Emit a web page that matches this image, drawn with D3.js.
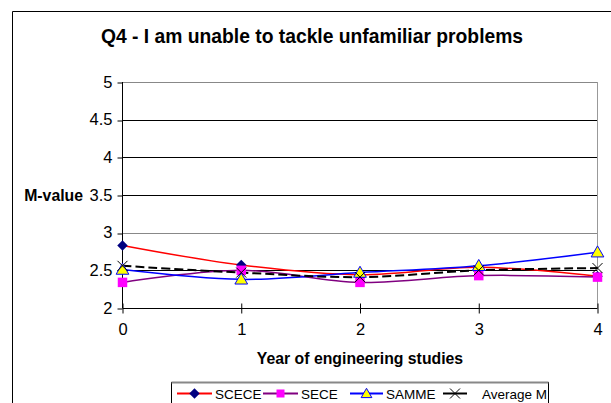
<!DOCTYPE html>
<html><head><meta charset="utf-8">
<script src="https://cdnjs.cloudflare.com/ajax/libs/d3/7.8.5/d3.min.js"></script>
<style>body{margin:0;background:#fff}svg{display:block;font-family:Arial,"Liberation Sans",sans-serif}</style>
</head><body><svg id="c" width="611" height="403"></svg>
<script>
const years = [0, 1, 2, 3, 4];
const scece = [2.83, 2.57, 2.44, 2.54, 2.42];
const sece = [2.34, 2.50, 2.34, 2.43, 2.41];
const samme = [2.51, 2.38, 2.47, 2.56, 2.74];
const avgM = [2.56, 2.47, 2.41, 2.50, 2.53];
const yTicks = [2, 2.5, 3, 3.5, 4, 4.5, 5];
const seriesNames = ["SCECE", "SECE", "SAMME", "Average M"];

const FF = "Arial,'Liberation Sans',sans-serif";
const svg = d3.select("#c");
svg.append("path").attr("d","M12.5,403 V11.5 H611").attr("fill","none").attr("stroke","#000").attr("stroke-width",1);

const x = d3.scaleLinear().domain([0,4]).range([122.5,597.5]);
const y = d3.scaleLinear().domain([2,5]).range([308,82]);

svg.append("text").attr("x",312).attr("y",43).attr("text-anchor","middle")
  .attr("font-weight","bold").attr("font-size",19.3).text("Q4 - I am unable to tackle unfamiliar problems");

svg.append("g").selectAll("line").data(yTicks.slice(1)).join("line")
  .attr("x1",x(0)).attr("x2",x(4)).attr("y1",d=>Math.round(y(d))+0.5).attr("y2",d=>Math.round(y(d))+0.5)
  .attr("stroke",d=> (d===5||d===3)?"#888":"#000").attr("stroke-width",1);
svg.append("line").attr("x1",x(4)).attr("x2",x(4)).attr("y1",y(5)).attr("y2",y(2)).attr("stroke","#999");

const ya = svg.append("g").attr("transform",`translate(${x(0)},0)`)
  .call(d3.axisLeft(y).tickValues(yTicks).tickFormat(d=>String(d)).tickSize(5).tickPadding(5));
ya.selectAll("text").attr("font-size",16.5).attr("fill","#000").attr("font-family",FF);
ya.selectAll(".tick line").attr("stroke","#000");
ya.select(".domain").attr("stroke","#000").attr("d",`M0,${y(5)}V${y(2)}`);
ya.selectAll(".tick line").attr("transform",d=>`translate(0,${Math.round(y(d))+0.5-y(d)})`);

const xa = svg.append("g").attr("transform",`translate(0,${Math.round(y(2))+0.5})`)
  .call(d3.axisBottom(x).tickValues(years).tickFormat(d3.format("d")).tickSize(5).tickPadding(10));
xa.selectAll("text").attr("font-size",16.5).attr("fill","#000").attr("font-family",FF);
xa.select(".domain").attr("stroke","#000").attr("d",`M${x(0)},0H${x(4)}`);
xa.selectAll(".tick line").attr("stroke","#000").attr("y1",-5);

svg.append("text").attr("x",83).attr("y",201).attr("text-anchor","end").attr("font-weight","bold")
  .attr("font-size",15.8).text("M-value");
svg.append("text").attr("x",360).attr("y",364).attr("text-anchor","middle").attr("font-weight","bold")
  .attr("font-size",15.8).text("Year of engineering studies");

const line = d3.line().x((d,i)=>x(years[i])).y(d=>y(d)).curve(d3.curveCatmullRom.alpha(0.5));

const diamond = d3.symbol().type(d3.symbolDiamond2).size(70);
const square = d3.symbol().type(d3.symbolSquare).size(90);
const tri = d3.symbol().type(d3.symbolTriangle).size(70);

function drawSeries(vals, color, dash, width){
  svg.append("path").attr("d",line(vals)).attr("fill","none").attr("stroke",color)
    .attr("stroke-width",width).attr("stroke-dasharray",dash||null);
}
drawSeries(scece,"#ff0000",null,1.5);
drawSeries(sece,"#800080",null,1.5);
drawSeries(samme,"#0000ff",null,1.5);
drawSeries(avgM,"#000","9,4",2);

function markers(vals, fn){ vals.forEach((v,i)=>fn(svg.append("g").attr("transform",`translate(${x(years[i])},${y(v)})`))); }
markers(scece, g=>g.append("path").attr("d",diamond()).attr("fill","#000080"));
markers(sece, g=>g.append("path").attr("d",square()).attr("fill","#ff00ff"));
markers(samme, g=>g.append("path").attr("d",tri()).attr("fill","#ffff00").attr("stroke","#0000ff").attr("stroke-width",1).attr("transform","translate(0,1)"));
markers(avgM, g=>g.append("path").attr("d","M-5,-5L5,5M-5,5L5,-5").attr("stroke","#000").attr("stroke-width",1));

const lg = svg.append("g");
lg.append("rect").attr("x",171.5).attr("y",382.5).attr("width",377).attr("height",30).attr("fill","#fff").attr("stroke","#000");
lg.append("line").attr("x1",171.5).attr("x2",548.5).attr("y1",382.5).attr("y2",382.5).attr("stroke","#888").attr("stroke-width",2);
const items = [
  {name:seriesNames[0], x:177, w:35, tx:215, color:"#ff0000", mk:g=>g.append("path").attr("d",diamond()).attr("fill","#000080")},
  {name:seriesNames[1], x:263, w:35, tx:301, color:"#800080", mk:g=>g.append("path").attr("d",d3.symbol().type(d3.symbolSquare).size(64)()).attr("fill","#ff00ff")},
  {name:seriesNames[2], x:350, w:33, tx:386, color:"#0000ff", mk:g=>g.append("path").attr("d",d3.symbol().type(d3.symbolTriangle).size(50)()).attr("fill","#ffff00").attr("stroke","#0000ff").attr("transform","translate(0,1)")},
  {name:seriesNames[3], x:443, w:24, tx:482, color:"#000", mk:g=>g.append("path").attr("d","M-5,-5L5,5M-5,5L5,-5").attr("stroke","#000")}
];
items.forEach(it=>{
  const cy=393.5;
  lg.append("line").attr("x1",it.x).attr("x2",it.x+it.w).attr("y1",cy).attr("y2",cy).attr("stroke",it.color).attr("stroke-width",2);
  it.mk(lg.append("g").attr("transform",`translate(${it.x+it.w/2},${cy})`));
  lg.append("text").attr("x",it.tx).attr("y",cy+5).attr("font-size",13.5).text(it.name);
});
</script></body></html>
